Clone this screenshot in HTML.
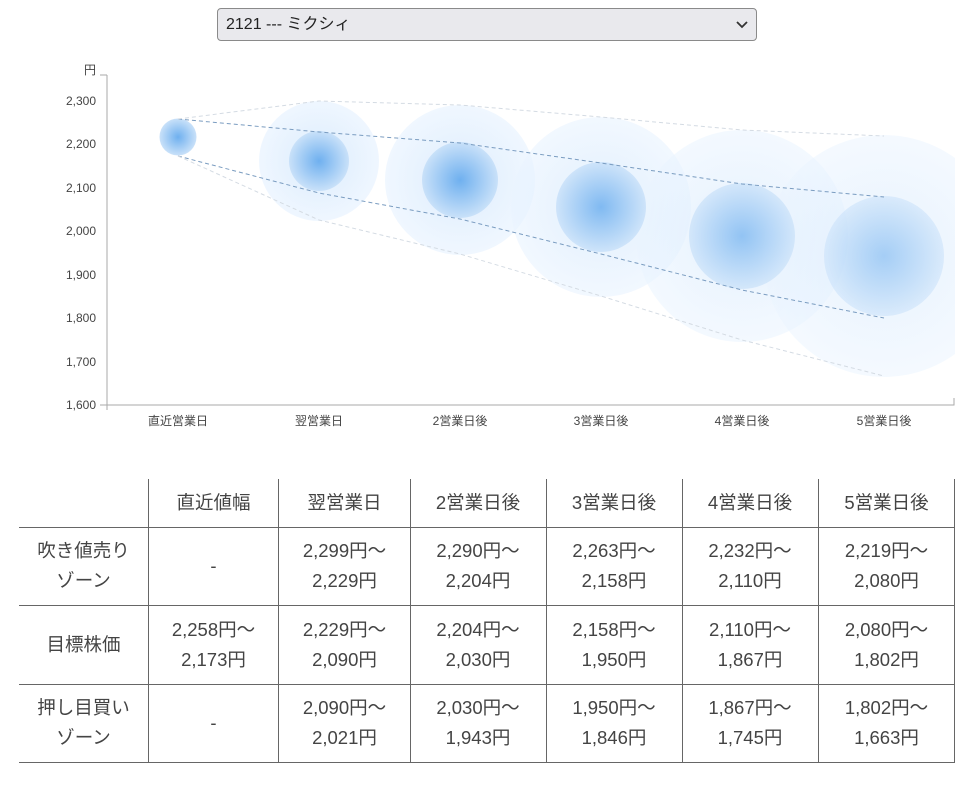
<!DOCTYPE html>
<html><head><meta charset="utf-8"><style>
body{margin:0;background:#fff;font-family:"Liberation Sans","Noto Sans CJK JP",sans-serif;color:#444;}
.sel{position:absolute;left:217px;top:8px;width:540px;height:33px;border:1px solid #8a8a8a;border-radius:4px;background:#e9e9ed;box-sizing:border-box;font-size:16px;color:#222;line-height:31px;padding-left:8px;}
.sel svg{position:absolute;right:8px;top:12px}
.c{position:absolute;display:flex;align-items:center;justify-content:center;text-align:center;font-size:18.5px;line-height:30px;color:#444;box-sizing:border-box;}
</style></head><body>
<div class="sel">2121 --- ミクシィ<svg width="12" height="8"><path d="M1 1 L6 6 L11 1" fill="none" stroke="#333" stroke-width="1.8"/></svg></div>
<svg width="975" height="460" style="position:absolute;left:0;top:0" font-family="Liberation Sans, Noto Sans CJK JP, sans-serif">
<defs>
<radialGradient id="gi"><stop offset="0" stop-color="#6fb0ef"/><stop offset="1" stop-color="#c9e1f9"/></radialGradient>
<radialGradient id="go"><stop offset="0" stop-color="#d6e9fd"/><stop offset="1" stop-color="#eaf4ff" stop-opacity="0.85"/></radialGradient>
<clipPath id="cp"><rect x="107" y="60" width="848" height="345"/></clipPath>
</defs>
<g clip-path="url(#cp)">
<circle cx="319" cy="161" r="60" fill="url(#go)" opacity="0.9"/>
<circle cx="460" cy="180" r="75" fill="url(#go)" opacity="0.85"/>
<circle cx="601" cy="207" r="90" fill="url(#go)" opacity="0.75"/>
<circle cx="742" cy="236" r="106" fill="url(#go)" opacity="0.65"/>
<circle cx="884" cy="256" r="121" fill="url(#go)" opacity="0.6"/>
<circle cx="178" cy="137" r="18.5" fill="url(#gi)"/>
<circle cx="319" cy="161" r="30" fill="url(#gi)"/>
<circle cx="460" cy="180" r="38" fill="url(#gi)"/>
<circle cx="601" cy="207" r="45" fill="url(#gi)" opacity="0.85"/>
<circle cx="742" cy="236" r="53" fill="url(#gi)" opacity="0.7"/>
<circle cx="884" cy="256" r="60" fill="url(#gi)" opacity="0.55"/>
</g>
<g fill="none" stroke-dasharray="4,3">
<polyline stroke="#7a9cc0" points="178,119 319,132 460,143 601,163 742,184 884,197"/>
<polyline stroke="#7a9cc0" points="178,156 319,193 460,219 601,254 742,290 884,318"/>
<polyline stroke="#d4dbe3" points="178,119 319,101 460,105 601,117 742,130 884,136"/>
<polyline stroke="#d4dbe3" points="178,156 319,220 460,254 601,296 742,340 884,376"/>
</g>
<g stroke="#aaa" fill="none"><path d="M107 75 V410 M100 405 H954 V398 M100 75 H107"/></g>
<g font-size="12" fill="#444" text-anchor="end">
<text x="96" y="74">円</text>
<text x="96" y="105">2,300</text><text x="96" y="148">2,200</text><text x="96" y="192">2,100</text><text x="96" y="235">2,000</text><text x="96" y="279">1,900</text><text x="96" y="322">1,800</text><text x="96" y="366">1,700</text><text x="96" y="409">1,600</text>
</g>
<g font-size="12" fill="#444" text-anchor="middle">
<text x="178" y="425">直近営業日</text><text x="319" y="425">翌営業日</text><text x="460" y="425">2営業日後</text><text x="601" y="425">3営業日後</text><text x="742" y="425">4営業日後</text><text x="884" y="425">5営業日後</text>
</g>
</svg>
<svg width="975" height="799" style="position:absolute;left:0;top:0" stroke="#666" fill="none">
<path d="M19 527.5H955 M19 605.5H955 M19 684.5H955 M19 762.5H955"/>
<path d="M148.5 479V763 M278.5 479V763 M410.5 479V763 M546.5 479V763 M682.5 479V763 M818.5 479V763 M954.5 479V763"/>
</svg>
<div class="c" style="left:148px;top:478px;width:131px;height:49px">直近値幅</div>
<div class="c" style="left:279px;top:478px;width:131px;height:49px">翌営業日</div>
<div class="c" style="left:410px;top:478px;width:136px;height:49px">2営業日後</div>
<div class="c" style="left:546px;top:478px;width:136px;height:49px">3営業日後</div>
<div class="c" style="left:682px;top:478px;width:136px;height:49px">4営業日後</div>
<div class="c" style="left:818px;top:478px;width:137px;height:49px">5営業日後</div>

<div class="c" style="left:19px;top:527px;width:129px;height:78px">吹き値売り<br>ゾーン</div>
<div class="c" style="left:148px;top:527px;width:131px;height:78px">-</div>
<div class="c" style="left:279px;top:527px;width:131px;height:78px">2,299円～<br>2,229円</div>
<div class="c" style="left:410px;top:527px;width:136px;height:78px">2,290円～<br>2,204円</div>
<div class="c" style="left:546px;top:527px;width:136px;height:78px">2,263円～<br>2,158円</div>
<div class="c" style="left:682px;top:527px;width:136px;height:78px">2,232円～<br>2,110円</div>
<div class="c" style="left:818px;top:527px;width:137px;height:78px">2,219円～<br>2,080円</div>

<div class="c" style="left:19px;top:605px;width:129px;height:79px">目標株価</div>
<div class="c" style="left:148px;top:605px;width:131px;height:79px">2,258円～<br>2,173円</div>
<div class="c" style="left:279px;top:605px;width:131px;height:79px">2,229円～<br>2,090円</div>
<div class="c" style="left:410px;top:605px;width:136px;height:79px">2,204円～<br>2,030円</div>
<div class="c" style="left:546px;top:605px;width:136px;height:79px">2,158円～<br>1,950円</div>
<div class="c" style="left:682px;top:605px;width:136px;height:79px">2,110円～<br>1,867円</div>
<div class="c" style="left:818px;top:605px;width:137px;height:79px">2,080円～<br>1,802円</div>

<div class="c" style="left:19px;top:684px;width:129px;height:78px">押し目買い<br>ゾーン</div>
<div class="c" style="left:148px;top:684px;width:131px;height:78px">-</div>
<div class="c" style="left:279px;top:684px;width:131px;height:78px">2,090円～<br>2,021円</div>
<div class="c" style="left:410px;top:684px;width:136px;height:78px">2,030円～<br>1,943円</div>
<div class="c" style="left:546px;top:684px;width:136px;height:78px">1,950円～<br>1,846円</div>
<div class="c" style="left:682px;top:684px;width:136px;height:78px">1,867円～<br>1,745円</div>
<div class="c" style="left:818px;top:684px;width:137px;height:78px">1,802円～<br>1,663円</div>
</body></html>
